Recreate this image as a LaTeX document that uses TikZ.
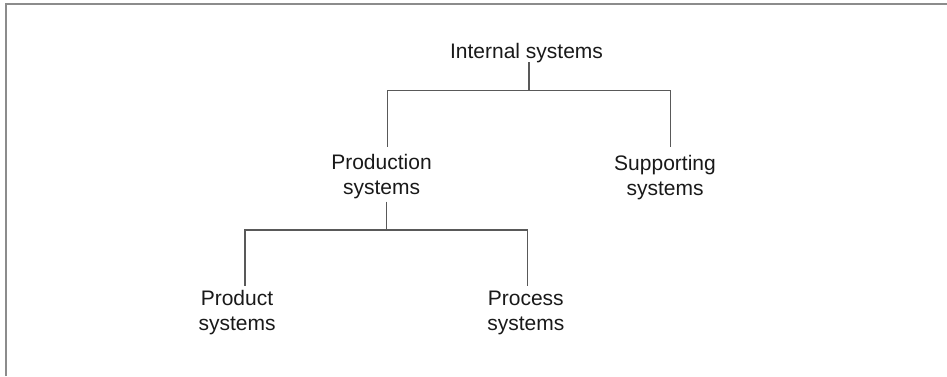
\documentclass[tikz,border=0pt]{standalone}
\usepackage{fontspec}
\setmainfont{Liberation Sans}
\begin{document}
\begin{tikzpicture}[x=1pt,y=-1pt,
  label text/.style={font=\fontsize{21}{25}\selectfont, text=black!90,
    align=center, inner sep=0pt, outer sep=0pt},
  branch/.style={draw=black!65, line width=1.3pt},
  frame line/.style={draw=black!45, line width=2pt}]
  % canvas and frame
  \useasboundingbox (0,0) rectangle (947,376);
  \draw[frame line] (6,376) -- (6,4) -- (947,4);

  % hierarchy labels
  \node[label text, anchor=base]  (int)  at (526.5,58)  {Internal systems};
  \node[label text, anchor=north] (prod) at (381.5,154) {Production\\systems};
  \node[label text, anchor=north] (supp) at (665,155)   {Supporting\\systems};
  \node[label text, anchor=north] (prdt) at (237,290.7) {Product\\systems};
  \node[label text, anchor=north] (proc) at (525.8,290.7) {Process\\systems};

  % junction points of the two branchings
  \coordinate (j1) at (529,90.5);
  \coordinate (j2) at (386.3,230);

  % first level
  \draw[branch] ([xshift=2.5pt]int.south) -- (j1);
  \draw[branch] (j1) -| ([xshift=6pt,yshift=7pt]prod.north);
  \draw[branch] (j1) -| ([xshift=5.7pt,yshift=8pt]supp.north);

  % second level
  \draw[branch] ([xshift=4.8pt,yshift=-3pt]prod.south) -- (j2);
  \draw[branch] (j2) -| ([xshift=8pt,yshift=4.7pt]prdt.north);
  \draw[branch] (j2) -| ([xshift=2pt,yshift=4.7pt]proc.north);
\end{tikzpicture}
\end{document}
